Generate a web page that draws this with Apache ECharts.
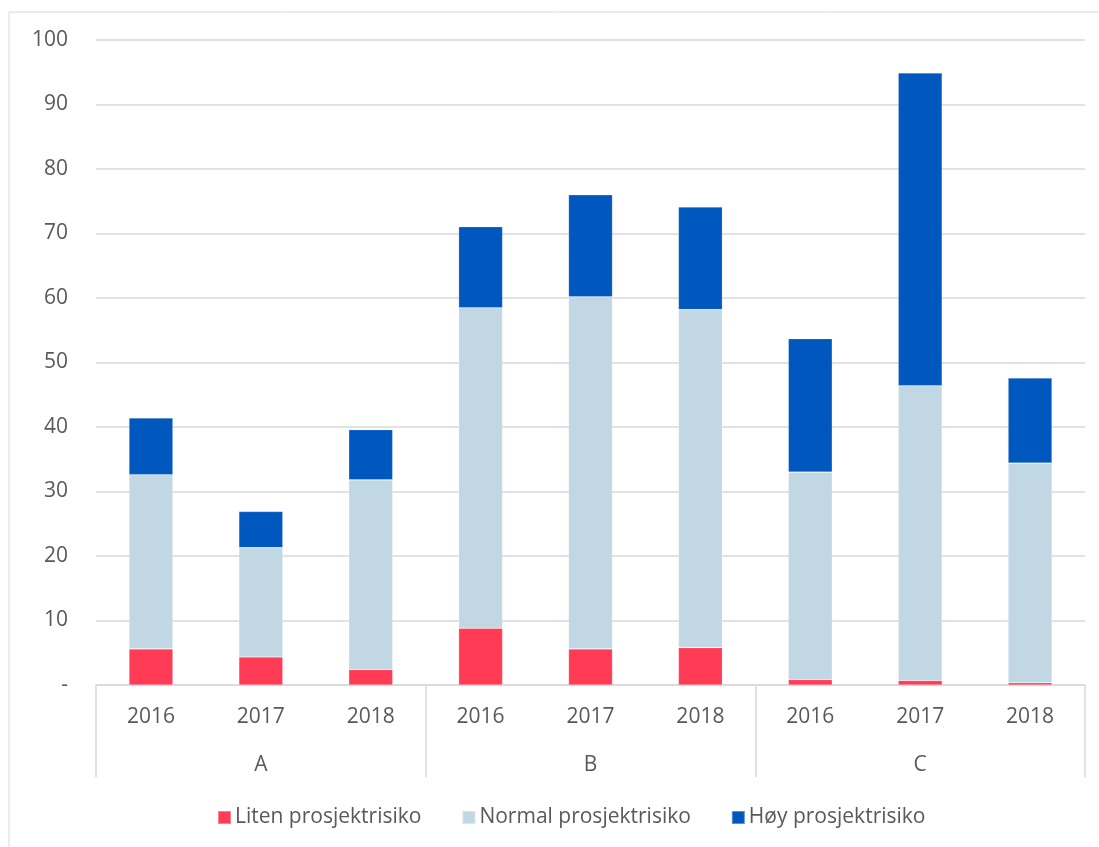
<!DOCTYPE html>
<html>
<head>
<meta charset="utf-8">
<script src="https://cdn.jsdelivr.net/npm/echarts@6/dist/echarts.min.js"></script>
<style>
html,body{margin:0;padding:0;background:#fff;}
#chart{width:1099px;height:847px;}
</style>
</head>
<body>
<div id="chart"></div>
<script>
const years = ['2016','2017','2018','2016','2017','2018','2016','2017','2018'];
const groups = ['A','B','C'];
const seriesNames = ['Liten prosjektrisiko','Normal prosjektrisiko','Høy prosjektrisiko'];
const liten  = [5.6, 4.35, 2.4, 8.8, 5.6, 5.8, 0.85, 0.7, 0.35];
const normal = [27.0, 16.95, 29.4, 49.7, 54.6, 52.4, 32.15, 45.7, 34.05];
const hoy    = [8.8, 5.6, 7.8, 12.55, 15.8, 15.9, 20.7, 48.5, 13.2];
const colors = ['#FF3B55', '#C2D7E4', '#0057BE'];

const chart = echarts.init(document.getElementById('chart'));
const font = '"Open Sans", sans-serif';
const txt = '#595959';
const grid = '#D9D9D9';

chart.setOption({
  animation: false,
  textStyle: { fontFamily: font },
  graphic: [{
    type: 'rect',
    shape: { x: 9, y: 12, width: 1200, height: 1000 },
    style: { fill: 'none', stroke: '#D9D9D9', lineWidth: 1 },
    z: -1
  }],
  grid: { left: 96, right: 14, top: 40, bottom: 162 },
  legend: {
    data: seriesNames,
    top: 802,
    left: 212,
    icon: 'rect',
    itemWidth: 13,
    itemHeight: 13,
    itemGap: 40,
    textStyle: { fontFamily: font, fontSize: 21, color: txt, padding: [0,0,0,-1] }
  },
  xAxis: [{
    type: 'category',
    data: years,
    position: 'bottom',
    axisLine: { show: true, lineStyle: { color: grid, width: 1.5 } },
    axisTick: { show: false },
    axisLabel: { fontFamily: font, fontSize: 21, color: txt, margin: 22, interval: 0 }
  }, {
    type: 'category',
    data: groups,
    position: 'bottom',
    axisLine: { show: false },
    axisTick: { show: true, length: 92, lineStyle: { color: grid, width: 1.5 } },
    axisLabel: { fontFamily: font, fontSize: 21, color: txt, margin: 70 }
  }],
  yAxis: {
    type: 'value',
    min: 0, max: 100, interval: 10,
    axisLine: { show: false },
    axisTick: { show: false },
    splitLine: { lineStyle: { color: grid, width: 1.5 } },
    axisLabel: {
      fontFamily: font, fontSize: 21, color: txt, margin: 28,
      formatter: v => v === 0 ? '-' : String(v)
    }
  },
  series: [liten, normal, hoy].map((d, i) => ({
    name: seriesNames[i],
    type: 'bar',
    stack: 'total',
    xAxisIndex: 0,
    barWidth: '40%',
    data: d,
    itemStyle: { color: colors[i], borderColor: 'rgba(255,255,255,0.35)', borderWidth: 0.6 }
  }))
});
</script>
</body>
</html>
